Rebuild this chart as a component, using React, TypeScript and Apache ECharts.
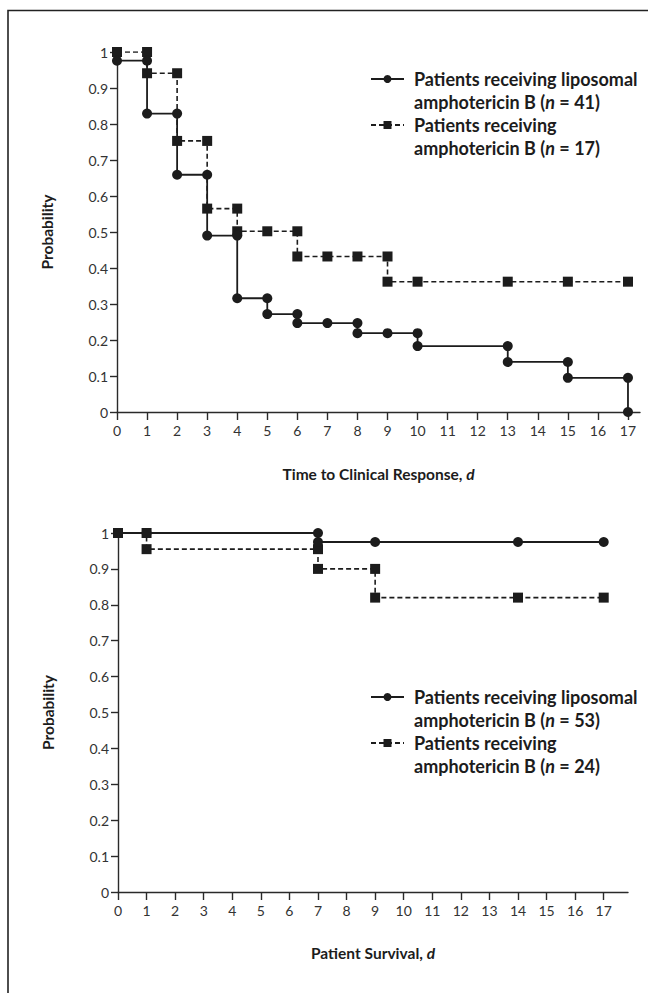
import React, { useEffect, useRef } from "react";
import * as echarts from "echarts";

// ---------- data ----------
const xTicks = [0, 1, 2, 3, 4, 5, 6, 7, 8, 9, 10, 11, 12, 13, 14, 15, 16, 17];
const yTicks = [0, 0.1, 0.2, 0.3, 0.4, 0.5, 0.6, 0.7, 0.8, 0.9, 1];

// Time to clinical response (top panel)
const responseLipoDays = [0, 1, 1, 2, 2, 3, 3, 4, 4, 5, 5, 6, 6, 7, 8, 8, 9, 10, 10, 13, 13, 15, 15, 17, 17];
const responseLipoProb = [0.976, 0.976, 0.829, 0.829, 0.659, 0.659, 0.49, 0.49, 0.316, 0.316, 0.272, 0.272, 0.247, 0.247, 0.247, 0.219, 0.219, 0.219, 0.183, 0.183, 0.139, 0.139, 0.095, 0.095, 0];
const responseAmphoDays = [0, 1, 1, 2, 2, 3, 3, 4, 4, 5, 6, 6, 7, 8, 9, 9, 10, 13, 15, 17];
const responseAmphoProb = [1, 1, 0.941, 0.941, 0.753, 0.753, 0.565, 0.565, 0.502, 0.502, 0.502, 0.432, 0.432, 0.432, 0.432, 0.362, 0.362, 0.362, 0.362, 0.362];

// Patient survival (bottom panel)
const survivalLipoDays = [0, 1, 7, 7, 9, 14, 17];
const survivalLipoProb = [1, 1, 1, 0.975, 0.975, 0.975, 0.975];
const survivalAmphoDays = [0, 1, 1, 7, 7, 9, 9, 14, 17];
const survivalAmphoProb = [1, 1, 0.955, 0.955, 0.9, 0.9, 0.82, 0.82, 0.82];

const seriesNames = [
  "Patients receiving liposomal amphotericin B (n = 41)",
  "Patients receiving amphotericin B (n = 17)",
  "Patients receiving liposomal amphotericin B (n = 53)",
  "Patients receiving amphotericin B (n = 24)",
];
const legendLine1 = ["Patients receiving liposomal", "Patients receiving", "Patients receiving liposomal", "Patients receiving"];
const legendCounts = ["41", "17", "53", "24"];

const xTitleTop = "Time to Clinical Response, ";
const xTitleBottom = "Patient Survival, ";
const yTitle = "Probability";

// ---------- styles ----------
const FONT = "Lato, 'Open Sans', 'DejaVu Sans', sans-serif";
const INK = "#1c1c1c";
const AXIS = "#2a2a2a";

const zip = (xs: number[], ys: number[]) => xs.map((x, i) => [x, ys[i]]);

const titleRich = {
  b: { fontFamily: FONT, fontWeight: "bold", fontSize: 15.5, color: INK, lineHeight: 20 },
  i: { fontFamily: FONT, fontWeight: "bold", fontStyle: "italic", fontSize: 15.5, color: INK, lineHeight: 20 },
};
const legendRich = {
  b: { fontFamily: FONT, fontWeight: "bold", fontSize: 18, color: INK, lineHeight: 23 },
  i: { fontFamily: FONT, fontWeight: "bold", fontStyle: "italic", fontSize: 18, color: INK, lineHeight: 23 },
};

function xAxis(gridIndex: number, max: number, title: string, nameGap: number) {
  return {
    type: "value",
    gridIndex,
    min: 0,
    max,
    interval: 1,
    axisLine: { show: true, onZero: false, lineStyle: { color: AXIS, width: 1.4 } },
    axisTick: { show: true, inside: false, length: 8, customValues: xTicks, lineStyle: { color: AXIS, width: 1.4 } },
    axisLabel: { customValues: xTicks, color: "#333", fontSize: 14, fontFamily: FONT, margin: 11 },
    splitLine: { show: false },
    name: `{b|${title}}{i|d}`,
    nameLocation: "middle",
    nameGap,
    nameTextStyle: { rich: titleRich },
  };
}

function yAxis(gridIndex: number) {
  return {
    type: "value",
    gridIndex,
    min: 0,
    max: 1,
    interval: 0.1,
    axisLine: { show: true, onZero: false, lineStyle: { color: AXIS, width: 1.4 } },
    axisTick: { show: true, inside: false, length: 7, customValues: yTicks, lineStyle: { color: AXIS, width: 1.4 } },
    axisLabel: { customValues: yTicks, color: "#333", fontSize: 14, fontFamily: FONT, margin: 9 },
    splitLine: { show: false },
    name: `{b|${yTitle}}`,
    nameLocation: "middle",
    nameGap: 60,
    nameTextStyle: { rich: titleRich },
  };
}

function solidSeries(name: string, idx: number, data: number[][]) {
  return {
    type: "line",
    name,
    xAxisIndex: idx,
    yAxisIndex: idx,
    data,
    symbol: "circle",
    symbolSize: 10,
    lineStyle: { color: INK, width: 1.8, type: "solid" },
    itemStyle: { color: INK },
    z: 4,
  };
}

function dashedSeries(name: string, idx: number, data: number[][]) {
  return {
    type: "line",
    name,
    xAxisIndex: idx,
    yAxisIndex: idx,
    data,
    symbol: "rect",
    symbolSize: 10,
    lineStyle: { color: INK, width: 1.6, type: [5, 3] },
    itemStyle: { color: INK },
    z: 3,
  };
}

function legend(k: number, top: number) {
  return {
    data: [seriesNames[k]],
    orient: "vertical",
    left: 370,
    top,
    padding: 0,
    itemWidth: 33,
    itemHeight: 10,
    selectedMode: false,
    formatter: () =>
      `{b| }\n{b|${legendLine1[k]}}\n{b|amphotericin B (}{i|n}{b| = ${legendCounts[k]})}`,
    textStyle: { rich: legendRich, padding: [0, 0, 0, 5] },
  };
}

export default function App() {
  const ref = useRef<HTMLDivElement>(null);

  useEffect(() => {
    if (!ref.current) return;
    const chart = echarts.init(ref.current, undefined, { renderer: "svg" });
    chart.setOption({
      animation: false,
      backgroundColor: "#ffffff",
      textStyle: { fontFamily: FONT },
      grid: [
        { left: 117, top: 52, width: 523, height: 360 },
        { left: 118, top: 533, width: 510, height: 359 },
      ],
      xAxis: [xAxis(0, 17.4, xTitleTop, 52), xAxis(1, 17.85, xTitleBottom, 51)],
      yAxis: [yAxis(0), yAxis(1)],
      legend: [legend(0, 47), legend(1, 93), legend(2, 665), legend(3, 711)],
      graphic: [
        {
          type: "polyline",
          shape: { points: [[8, 993], [8, 10.5], [648, 10.5]] },
          style: { stroke: "#222", lineWidth: 1.6, fill: "none" },
          silent: true,
        },
      ],
      series: [
        solidSeries(seriesNames[0], 0, zip(responseLipoDays, responseLipoProb)),
        dashedSeries(seriesNames[1], 0, zip(responseAmphoDays, responseAmphoProb)),
        solidSeries(seriesNames[2], 1, zip(survivalLipoDays, survivalLipoProb)),
        dashedSeries(seriesNames[3], 1, zip(survivalAmphoDays, survivalAmphoProb)),
      ],
    });
    return () => chart.dispose();
  }, []);

  return (
    <div
      ref={ref}
      style={{ position: "absolute", left: 0, top: 0, width: 648, height: 993, background: "#fff" }}
    />
  );
}
